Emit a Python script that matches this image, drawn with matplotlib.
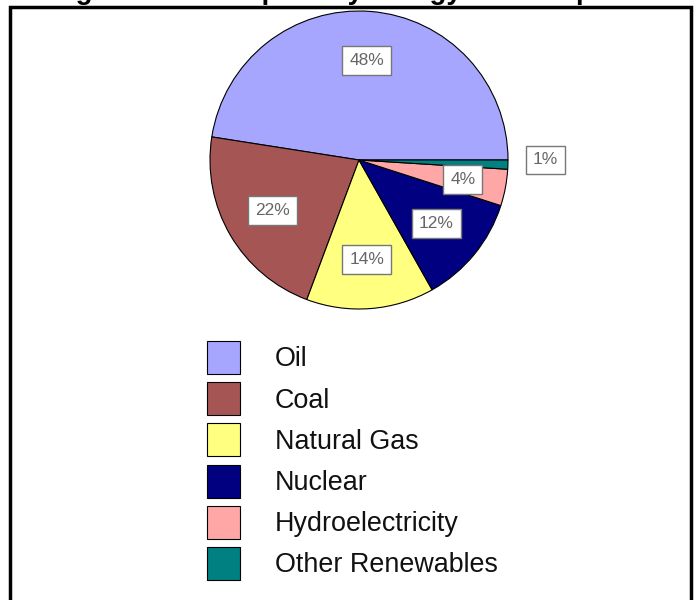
import numpy as np
import matplotlib
matplotlib.use("Agg")
import matplotlib.pyplot as plt
from matplotlib.patches import Rectangle

plt.rcParams['font.family'] = ['Liberation Sans', 'DejaVu Sans']

# data
sources = ['Oil', 'Coal', 'Natural Gas', 'Nuclear', 'Hydroelectricity', 'Other Renewables']
shares = [48, 22, 14, 12, 4, 1]
colors = ['#A6A6FF', '#A65555', '#FFFF80', '#000080', '#FFA6A6', '#008080']
title = 'Figure 1: World primary energy consumption'

W, H = 694, 600
fig = plt.figure(figsize=(W / 100, H / 100), dpi=100)

# frame around the chart (bottom runs off the picture)
fig.patches.append(Rectangle((10 / W, -0.05), 681 / W, 1.05 - 7 / H,
                             transform=fig.transFigure, fill=False,
                             edgecolor='black', linewidth=2.5))

# title, mostly above the top of the picture as in the original
fig.text(0.5, 1 + 1 / H, title, ha='center', va='baseline',
         fontsize=20, fontweight='bold')

# pie
cx, cy, r = 359, 160, 149
ax = fig.add_axes([(cx - r) / W, 1 - (cy + r) / H, 2 * r / W, 2 * r / H])
wedges, _ = ax.pie(shares, colors=colors, startangle=0, counterclock=True,
                   radius=1, wedgeprops=dict(edgecolor='black', linewidth=0.8))
ax.set_xlim(-1, 1)
ax.set_ylim(-1, 1)
ax.set_aspect('equal')
ax.axis('off')

for w, s in zip(wedges, shares):
    mid = np.deg2rad((w.theta1 + w.theta2) / 2)
    d = 0.67 if s > 5 else (0.71 if s > 2 else 1.25)
    y = d * np.sin(mid) if s > 2 else 0
    ax.text(d * np.cos(mid), y, '%d%%' % s,
            ha='center', va='center', fontsize=12.5, color='#666666',
            bbox=dict(boxstyle='square,pad=0.4', facecolor='white',
                      edgecolor='#777777', linewidth=1),
            clip_on=False)

# legend
leg = fig.legend(wedges, sources, loc='upper left',
                 bbox_to_anchor=(207 / W, 1 - 341 / H),
                 frameon=False, fontsize=19.4, borderpad=0, borderaxespad=0,
                 handlelength=1.22, handleheight=1.5, handletextpad=1.3,
                 labelspacing=0.31)
for t in leg.get_texts():
    t.set_color('#111111')

fig.savefig('out.png', dpi=100)
